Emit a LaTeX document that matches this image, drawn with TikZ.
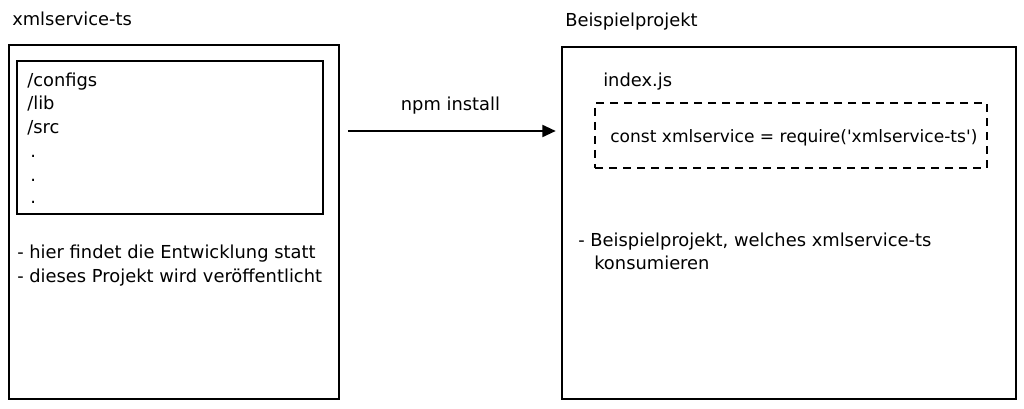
\documentclass[tikz,border=0pt]{standalone}
\usepackage{fontspec}
\setmainfont{DejaVu Sans}
\newfontfamily\codefont{DejaVu Sans}
\usetikzlibrary{arrows.meta,fit}
\begin{document}
\begin{tikzpicture}[x=0.75pt,y=-0.75pt,
  box/.style={draw, line width=1.4pt, inner sep=0pt},
  dbox/.style={draw, line width=1.3pt, dash pattern=on 6pt off 4.5pt, inner sep=0pt},
  lbl/.style={inner sep=0pt, font=\fontsize{13.4}{16}\selectfont},
  txt/.style={lbl, anchor=base west},
  arr/.style={-{Triangle[length=10pt,width=9pt]}, line width=1.4pt}]
\useasboundingbox (0,0) rectangle (1024,409);
% left side
\node[txt] (ltitle) at (12,26) {xmlservice-ts};
\node[box, fit={(9,45) (339,399)}] (lbox) {};
\node[box, fit={(17,61) (323,214)}] (linner) {};
\node[txt] (t1) at (27,87) {/configs};
\node[txt] (t2) at (27,110) {/lib};
\node[txt] (t3) at (27,134) {/src};
\node[txt] (d1) at (30,158) {.};
\node[txt] (d2) at (30,182) {.};
\node[txt] (d3) at (30,204) {.};
\node[txt] (b1) at (17,259) {- hier findet die Entwicklung statt};
\node[txt] (b2) at (17,283) {- dieses Projekt wird veröffentlicht};
% right side
\node[txt] (rtitle) at (565,27) {Beispielprojekt};
\node[box, fit={(562,47) (1016,399)}] (rbox) {};
\node[txt] (idx) at (603,87) {index.js};
\node[dbox, fit={(595,103) (987,168)}] (dash) {};
\node[txt, font=\codefont\fontsize{12.8}{16}\selectfont] (code) at (610,143) {const xmlservice = require('xmlservice-ts')};
\node[txt] (rb1) at (578,247) {- Beispielprojekt, welches xmlservice-ts};
\node[txt] (rb2) at (594,270) {konsumieren};
% arrow
\coordinate (ay) at (450,131);
\draw[arr, shorten <=6pt, shorten >=4pt] (lbox.east |- ay) -- node[lbl, above=12pt] (nl) {npm install} (rbox.west |- ay);
\end{tikzpicture}
\end{document}
